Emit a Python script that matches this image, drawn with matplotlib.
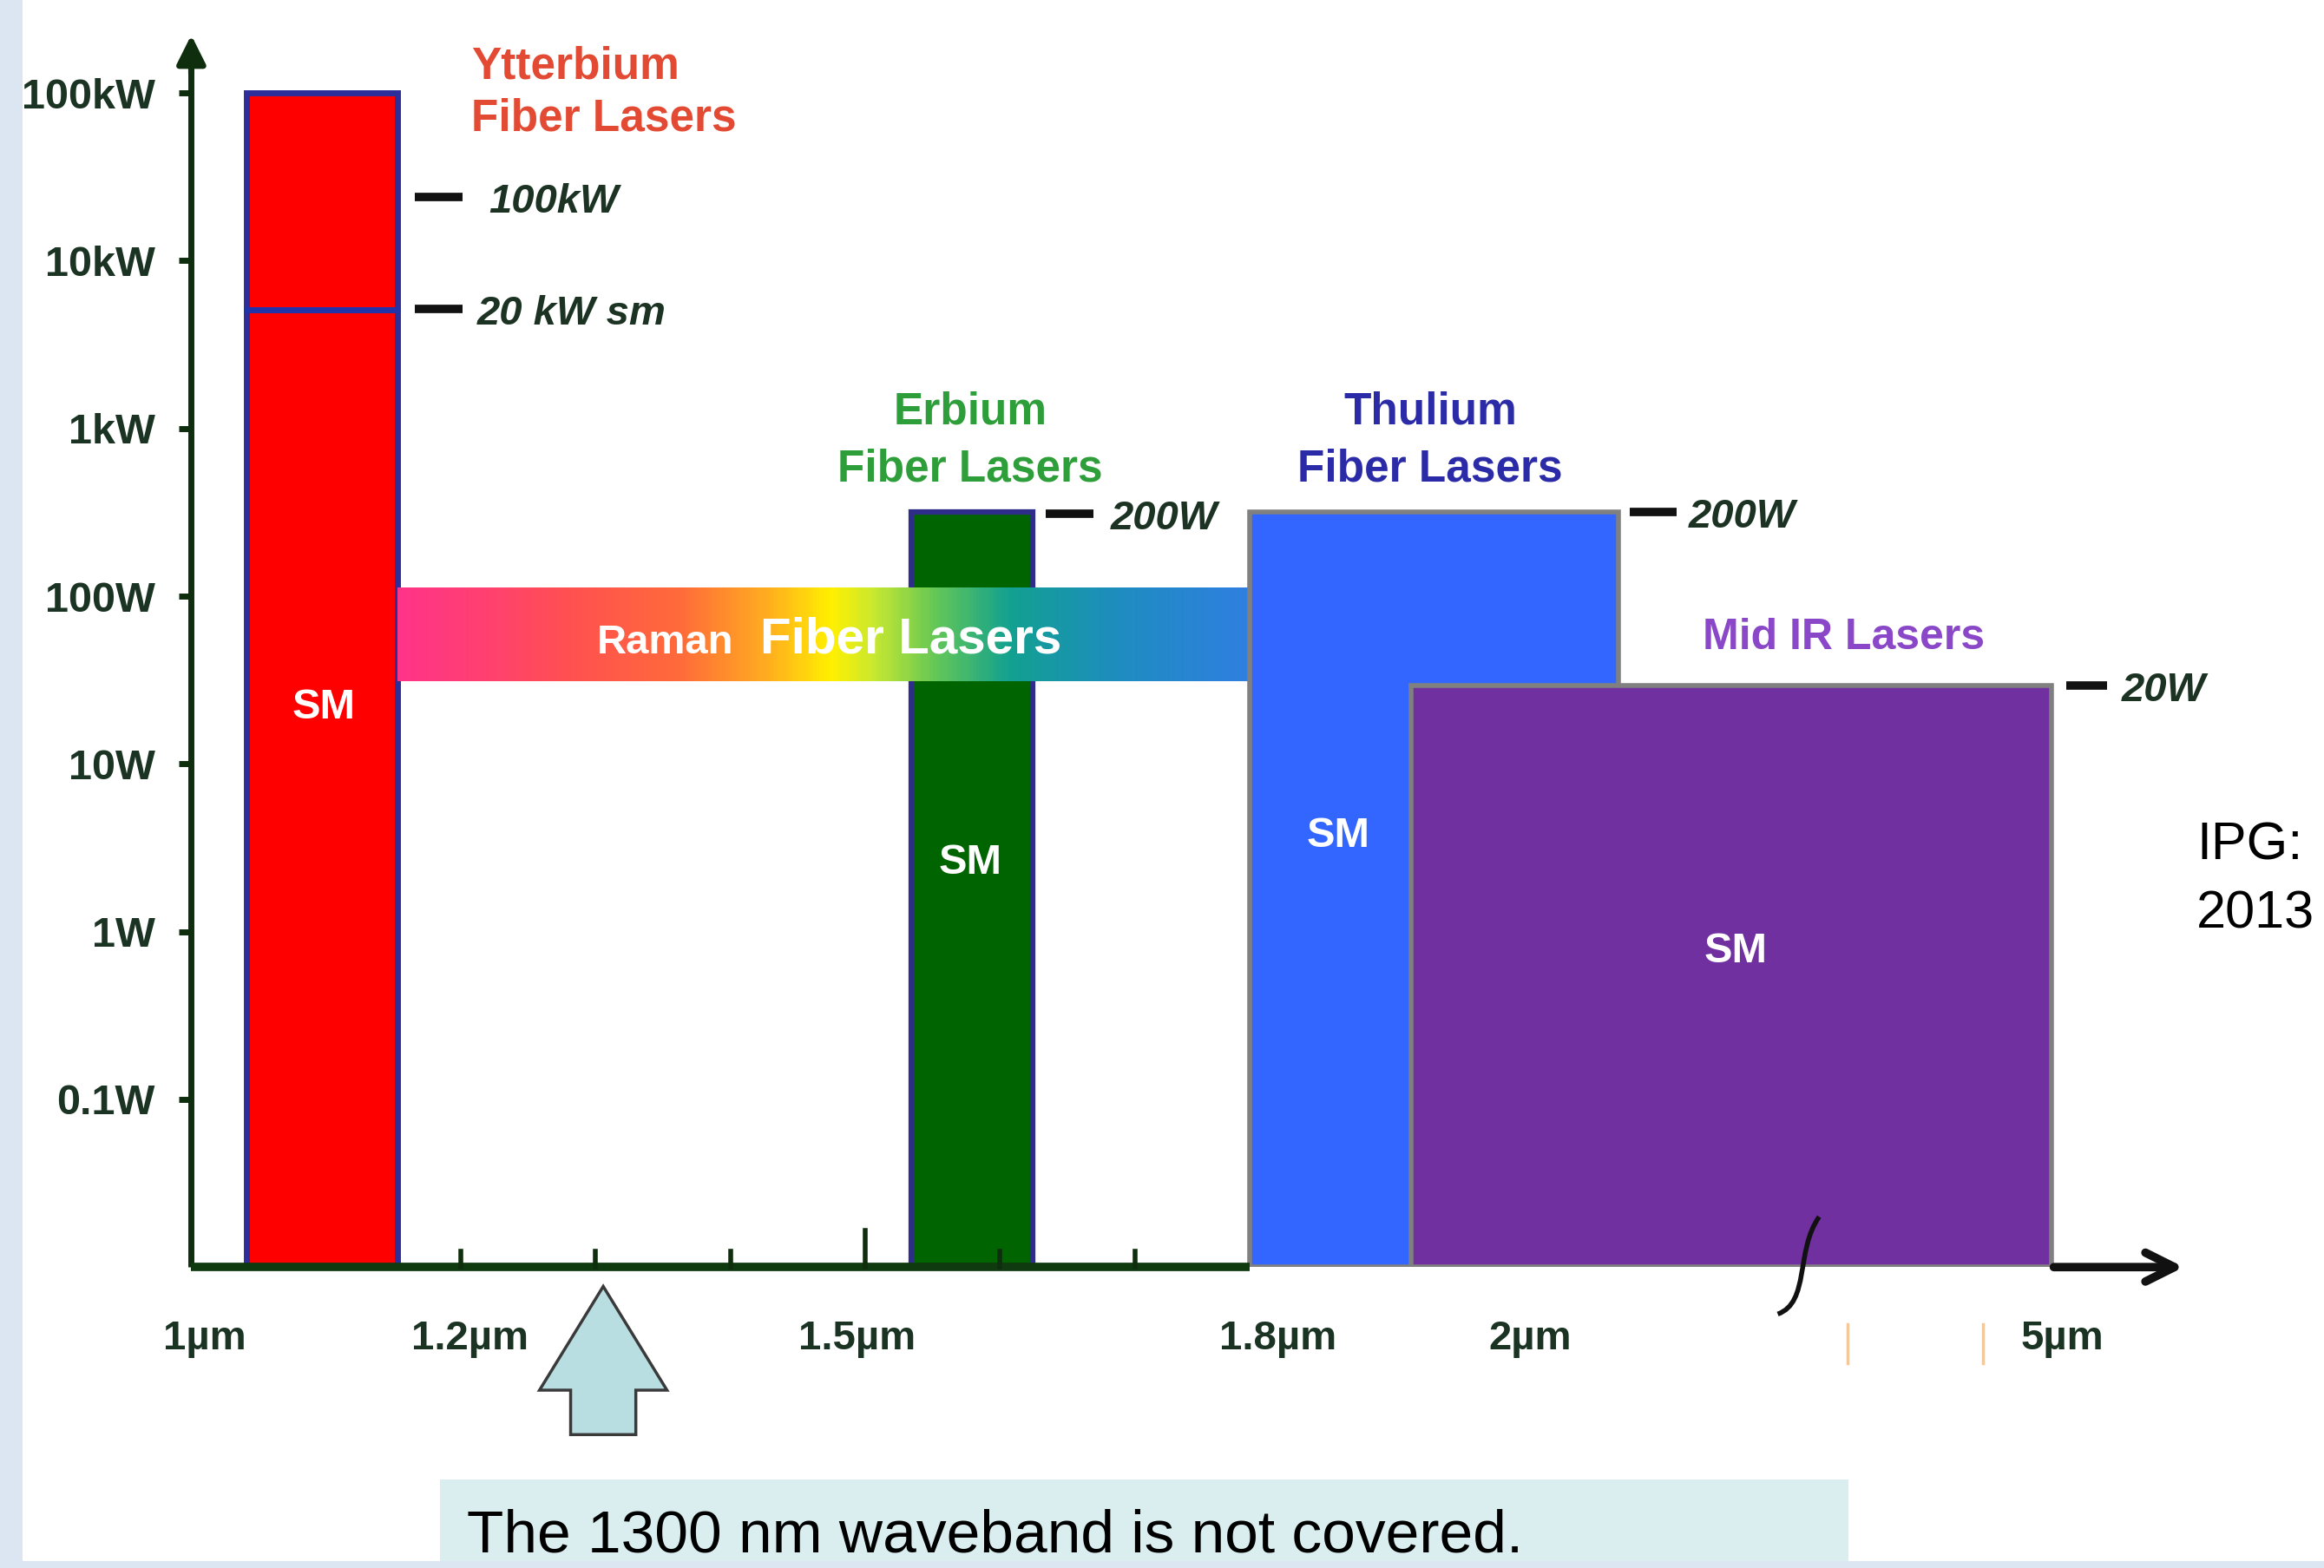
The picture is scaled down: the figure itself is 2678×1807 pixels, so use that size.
import matplotlib.pyplot as plt
import numpy as np
from matplotlib.patches import Rectangle, Polygon, PathPatch
from matplotlib.path import Path
from matplotlib.colors import LinearSegmentedColormap

plt.rcParams['font.family'] = ['Liberation Sans', 'DejaVu Sans']

# axis scales
y_ticks = [0.1, 1, 10, 100, 1e3, 1e4, 1e5]
y_labels = ['0.1W', '1W', '10W', '100W', '1kW', '10kW', '100kW']
x_ticks = [1.01, 1.207, 1.494, 1.806, 1.993, 2.388]
x_labels = ['1µm', '1.2µm', '1.5µm', '1.8µm', '2µm', '5µm']
minor_x = [1.2, 1.3, 1.4, 1.5, 1.6, 1.7]
y_min, y_max = 0.01, 10 ** 5.36
x_min, x_max = 1.0, 2.48

# laser boxes (x in axis units, top in W)
laser_names = ['Ytterbium', 'Erbium', 'Thulium', 'Mid IR']
laser_x0 = [1.041, 1.534, 1.785, 1.905]
laser_x1 = [1.153, 1.624, 2.059, 2.380]
laser_top = [1e5, 318, 318, 29.5]
laser_face = ['#FF0000', '#006400', '#3366FF', '#7030A0']
laser_edge = ['#2E2E9A', '#2E2E8A', '#808080', '#808080']
laser_lw = [5, 4.5, 4, 4]
laser_z = [2, 3, 5, 6]
sm_x = [1.098, 1.578, 1.851, 2.146]
sm_y = [21.7, 2.57, 3.71, 0.76]
yb_sm_level = 5100

raman_x = [1.153, 1.785]
raman_y = [31, 113]
raman_colors = [(0.00, '#FF3388'), (0.10, '#FF4070'), (0.20, '#FF5050'),
                (0.33, '#FF6A3A'), (0.43, '#FFAA20'), (0.51, '#FFF000'),
                (0.56, '#C8E830'), (0.63, '#66C855'), (0.72, '#12A090'),
                (0.85, '#1E8CC0'), (1.00, '#2F7FE0')]

# power level markers
marker_x = [1.166, 1.166, 1.634, 2.067, 2.391]
marker_w = [0.035, 0.035, 0.035, 0.035, 0.030]
marker_y = [24100, 5140, 311, 318, 29.5]
marker_text = ['100kW', '20 kW sm', '200W', '200W', '20W']
marker_lx = [1.221, 1.212, 1.682, 2.111, 2.432]

fig = plt.figure(figsize=(26.78, 18.07), dpi=100, facecolor='#DCE6F2')
fig.patches.append(Rectangle((0.0096, 0.0047), 1, 1, transform=fig.transFigure,
                             facecolor='white', edgecolor='none', zorder=-5))

ax = fig.add_axes([0.0823, 0.1919, 0.8584, 0.7873])
ax.set_facecolor('none')
ax.set_yscale('log')
ax.set_xlim(x_min, x_max)
ax.set_ylim(y_min, y_max)
for s in ax.spines.values():
    s.set_visible(False)

tick_col = '#1A3322'
ax.set_yticks(y_ticks)
ax.set_yticklabels(y_labels)
ax.yaxis.set_minor_locator(plt.NullLocator())
ax.tick_params(axis='y', direction='out', length=10, width=5, color='#0E2E0E',
               pad=20, labelsize=35, labelcolor=tick_col)
ax.set_xticks(x_ticks)
ax.set_xticklabels(x_labels)
ax.tick_params(axis='x', length=0, pad=44, labelsize=34, labelcolor=tick_col)
for lab in ax.get_xticklabels() + ax.get_yticklabels():
    lab.set_fontweight('bold')

# laser boxes
for i in range(len(laser_names)):
    ax.bar(laser_x0[i], laser_top[i] - y_min, width=laser_x1[i] - laser_x0[i],
           bottom=y_min, align='edge', color=laser_face[i],
           edgecolor=laser_edge[i], linewidth=laser_lw[i], zorder=laser_z[i])
    ax.text(sm_x[i], sm_y[i], 'SM', color='white', fontsize=35,
            fontweight='bold', ha='center', va='center', zorder=10)

ax.plot([laser_x0[0], laser_x1[0]], [yb_sm_level, yb_sm_level],
        color='#2233AA', lw=5, zorder=3)

# raman band sits above erbium, below thulium
cmap = LinearSegmentedColormap.from_list('raman', raman_colors)
xe = np.linspace(raman_x[0], raman_x[1], 300)
ax.pcolormesh(xe, raman_y, np.linspace(0, 1, 299).reshape(1, -1),
              cmap=cmap, shading='flat', zorder=4, rasterized=True)

ax.text(1.301, 45.7, 'Raman', color='white', fontsize=34, fontweight='bold',
        ha='left', va='baseline', zorder=10)
ax.text(1.422, 45.7, 'Fiber Lasers', color='white', fontsize=42,
        fontweight='bold', ha='left', va='baseline', zorder=10)

# group labels
ax.text(1.208, 10 ** 5.0, 'Ytterbium\nFiber Lasers', color='#E34A33',
        fontsize=37, fontweight='bold', ha='left', va='center',
        linespacing=1.28, clip_on=False)
ax.text(1.578, 10 ** 2.926, 'Erbium\nFiber Lasers', color='#2E9E3A',
        fontsize=37, fontweight='bold', ha='center', va='center',
        linespacing=1.45)
ax.text(1.919, 10 ** 2.926, 'Thulium\nFiber Lasers', color='#2B2BA8',
        fontsize=37, fontweight='bold', ha='center', va='center',
        linespacing=1.45)
ax.text(2.226, 10 ** 1.752, 'Mid IR Lasers', color='#8A48C8',
        fontsize=36, fontweight='bold', ha='center', va='center')

# level markers
for mx, mw, my, mt, lx in zip(marker_x, marker_w, marker_y, marker_text, marker_lx):
    ax.plot([mx, mx + mw], [my, my], color='#111111', lw=7,
            solid_capstyle='butt', clip_on=False, zorder=11)
    ax.text(lx, my * 0.93, mt, color='#1C3324', fontsize=34, fontweight='bold',
            fontstyle='italic', ha='left', va='center', clip_on=False)

# axes lines
ax.plot([x_min, x_min], [y_min, 10 ** 5.2], color='#0E2E0E', lw=5,
        clip_on=False, zorder=12, solid_capstyle='butt')
ax.annotate('', xy=(x_min, y_max), xytext=(x_min, 10 ** 5.1),
            arrowprops=dict(arrowstyle='-|>', color='#0E2E0E', lw=5,
                            mutation_scale=50), annotation_clip=False)
ax.plot([x_min, laser_x0[2]], [y_min, y_min], color='#0F3A0F', lw=7,
        clip_on=False, zorder=12, solid_capstyle='butt')
ax.annotate('', xy=(x_max, y_min), xytext=(laser_x1[3], y_min),
            arrowprops=dict(arrowstyle='->', color='#111111', lw=7,
                            mutation_scale=60), annotation_clip=False, zorder=12)

tr = ax.get_xaxis_transform()
for mx in minor_x:
    h = 0.03 if mx == 1.5 else 0.013
    ax.plot([mx, mx], [0, h], color='#0E2E0E', lw=4, transform=tr,
            clip_on=False, zorder=12)

# faint marks near the axis break
for fx in [2.229, 2.329]:
    ax.plot([fx, fx], [-0.046, -0.078], color='#F5C89A', lw=2.5,
            transform=tr, clip_on=False)

# axis break curve
brk = Path([(2.2077, 10 ** -1.70), (2.190, 10 ** -1.90),
            (2.201, 10 ** -2.21), (2.177, 10 ** -2.28)],
           [Path.MOVETO, Path.CURVE4, Path.CURVE4, Path.CURVE4])
ax.add_patch(PathPatch(brk, facecolor='none', edgecolor='#111111', lw=4,
                       clip_on=False, zorder=13))

# up arrow pointing at 1300 nm
arrow_pts = [(407, 868), (364, 938), (385, 938), (385, 968),
             (429, 968), (429, 938), (450, 938)]
arrow_pts = [(x / 1568, 1 - y / 1058) for x, y in arrow_pts]
fig.patches.append(Polygon(arrow_pts, closed=True, transform=fig.transFigure,
                           facecolor='#B9DEE2', edgecolor='#3A3A3A', lw=2.5))

# note box
fig.patches.append(Rectangle((0.1894, 0.0047), 0.6059, 0.052,
                             transform=fig.transFigure, facecolor='#DAEEF0',
                             edgecolor='none'))
fig.text(0.2009, 0.0104, 'The 1300 nm waveband is not covered.', fontsize=50,
         color='black', ha='left', va='baseline')

fig.text(0.9452, 0.4518, 'IPG:', fontsize=44, color='black', ha='left',
         va='baseline')
fig.text(0.9452, 0.4083, '2013', fontsize=44, color='black', ha='left',
         va='baseline')

fig.savefig('out.png', dpi=100, facecolor=fig.get_facecolor())
